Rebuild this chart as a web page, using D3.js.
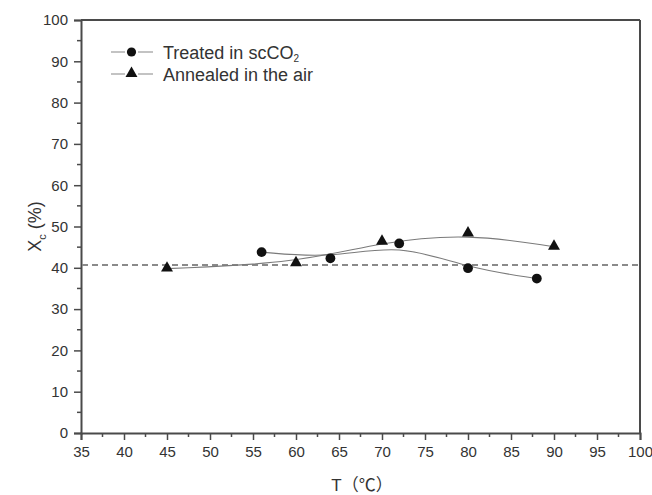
<!DOCTYPE html>
<html>
<head>
<meta charset="utf-8">
<script src="https://cdn.jsdelivr.net/npm/d3@7"></script>
<style>
  body { margin: 0; background: #fff; }
  text { font-family: "Liberation Sans", Arial, sans-serif; fill: #333; }
</style>
</head>
<body>
<div id="chart"></div>
<script>
// values
const scTemps = [56, 64, 72, 80, 88]
const scXc = [43.8, 42.3, 45.9, 39.9, 37.4]
const airTemps = [45, 60, 70, 80, 90]
const airXc = [39.8, 41.1, 46.3, 48.3, 45.1]
const refLine = 40.7
const xTicks = [35, 40, 45, 50, 55, 60, 65, 70, 75, 80, 85, 90, 95, 100]
const yTicks = [0, 10, 20, 30, 40, 50, 60, 70, 80, 90, 100]
const legendNames = ["Treated in scCO", "Annealed in the air"]

const width = 652
const height = 495
const margin = {top: 20, right: 12, bottom: 62, left: 81}

const svg = d3.select("#chart").append("svg")
    .attr("width", width)
    .attr("height", height)

const x = d3.scaleLinear().domain([35, 100]).range([margin.left, width - margin.right])
const y = d3.scaleLinear().domain([0, 100]).range([height - margin.bottom, margin.top])

const axisCol = "#4a4a4a"

// frame top + right
svg.append("line")
    .attr("x1", x(35)).attr("x2", x(100))
    .attr("y1", y(100)).attr("y2", y(100))
    .attr("stroke", axisCol).attr("stroke-width", 2)
svg.append("line")
    .attr("x1", x(100)).attr("x2", x(100))
    .attr("y1", y(100)).attr("y2", y(0))
    .attr("stroke", axisCol).attr("stroke-width", 2)

// minor ticks
const xMinor = d3.range(37.5, 100, 5)
const yMinor = d3.range(5, 100, 10)

const gx = svg.append("g").attr("transform", "translate(0," + y(0) + ")")
gx.call(d3.axisBottom(x).tickValues(xTicks).tickSize(7).tickPadding(6).tickFormat(d3.format("d")))
gx.selectAll(".tick line").attr("stroke", axisCol).attr("stroke-width", 1.5)
gx.select(".domain").attr("stroke", axisCol).attr("stroke-width", 2)
gx.selectAll("text").style("font-size", "15px").attr("fill", "#333")
gx.selectAll(".minor").data(xMinor).enter().append("line")
    .attr("x1", d => x(d)).attr("x2", d => x(d))
    .attr("y1", 0).attr("y2", 4)
    .attr("stroke", axisCol).attr("stroke-width", 1.5)

const gy = svg.append("g").attr("transform", "translate(" + x(35) + ",0)")
gy.call(d3.axisLeft(y).tickValues(yTicks).tickSize(7).tickPadding(6))
gy.selectAll(".tick line").attr("stroke", axisCol).attr("stroke-width", 1.5)
gy.select(".domain").attr("stroke", axisCol).attr("stroke-width", 2)
gy.selectAll("text").style("font-size", "15px").attr("fill", "#333")
gy.selectAll(".minor").data(yMinor).enter().append("line")
    .attr("x1", 0).attr("x2", -4)
    .attr("y1", d => y(d)).attr("y2", d => y(d))
    .attr("stroke", axisCol).attr("stroke-width", 1.5)

// dashed reference line
svg.append("line")
    .attr("x1", x(35) + 1).attr("x2", x(100) - 1)
    .attr("y1", y(refLine)).attr("y2", y(refLine))
    .attr("stroke", "#8a8a8a").attr("stroke-width", 2)
    .attr("stroke-dasharray", "6,4")

const line = d3.line().curve(d3.curveBasis)
const scPts = scTemps.map((t, i) => [x(t), y(scXc[i])])
const airPts = airTemps.map((t, i) => [x(t), y(airXc[i])])

svg.append("path").attr("d", line(scPts))
    .attr("fill", "none").attr("stroke", "#7a7a7a").attr("stroke-width", 1.1)
svg.append("path").attr("d", line(airPts))
    .attr("fill", "none").attr("stroke", "#7a7a7a").attr("stroke-width", 1.1)

const tri = d3.symbol().type(d3.symbolTriangle).size(62)

svg.selectAll(".sc").data(scPts).enter().append("circle")
    .attr("cx", d => d[0]).attr("cy", d => d[1]).attr("r", 4.9)
    .attr("fill", "#111")
svg.selectAll(".air").data(airPts).enter().append("path")
    .attr("d", tri)
    .attr("transform", d => "translate(" + d[0] + "," + (d[1] - 0.5) + ")")
    .attr("fill", "#111")

// legend
const rows = [52, 74]
const lg = svg.append("g")
lg.selectAll(".ll").data(rows).enter().append("line")
    .attr("x1", 111).attr("x2", 153)
    .attr("y1", d => d).attr("y2", d => d)
    .attr("stroke", "#888").attr("stroke-width", 1.2)
lg.append("rect").attr("x", 125).attr("y", 45).attr("width", 13).attr("height", 36).attr("fill", "#fff")
lg.append("circle").attr("cx", 131.5).attr("cy", rows[0]).attr("r", 4.6).attr("fill", "#111")
lg.append("path").attr("d", tri).attr("transform", "translate(131.5," + (rows[1] - 0.5) + ")").attr("fill", "#111")
const t1 = lg.append("text").attr("x", 163).attr("y", rows[0] + 6.5).style("font-size", "18px").text(legendNames[0])
t1.append("tspan").attr("dy", 3).style("font-size", "10px").text("2")
lg.append("text").attr("x", 163).attr("y", rows[1] + 6.5).style("font-size", "18px").text(legendNames[1])

// axis titles
const yt = svg.append("text")
    .attr("transform", "translate(41," + y(50) + ") rotate(-90)")
    .attr("text-anchor", "middle")
    .style("font-size", "18px")
yt.append("tspan").text("X")
yt.append("tspan").attr("dy", 5).style("font-size", "11px").text("c")
yt.append("tspan").attr("dy", -5).text(" (%)")

svg.append("text")
    .attr("x", 362).attr("y", 491)
    .attr("text-anchor", "middle")
    .style("font-size", "17px")
    .style("font-family", "'Liberation Sans', 'Noto Sans CJK SC', sans-serif")
    .text("T（℃）")
</script>
</body>
</html>
